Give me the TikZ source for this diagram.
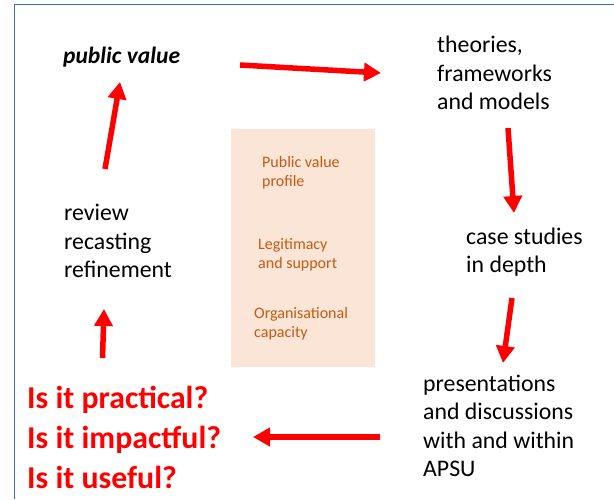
\documentclass[tikz,border=0pt]{standalone}
\usepackage{fontspec}
\setmainfont{Carlito}
\usetikzlibrary{arrows.meta}
\definecolor{frameblue}{HTML}{3A6FB0}
\definecolor{peach}{HTML}{FBE5D6}
\definecolor{rust}{HTML}{C55A11}
\tikzset{
  x=1pt, y=-1pt,
  plain/.style={anchor=west, inner sep=0pt, align=left, font=\fontsize{23.8}{28.5}\selectfont},
  question/.style={anchor=west, inner sep=0pt, align=left, text=red, font=\bfseries\fontsize{31.8}{40}\selectfont},
  boxtext/.style={anchor=west, inner sep=0pt, align=left, text=rust, font=\fontsize{16}{19}\selectfont},
  flow/.style={draw=red, line width=5.5pt, -{Triangle[length=17pt, width=18pt]}},
}
\begin{document}
\begin{tikzpicture}
\useasboundingbox (0,0) rectangle (614,499);
% frame (top and left edges)
\draw[frameblue, line width=1.3pt] (14.5,499) -- (14.5,4.3) -- (614,4.3);
% central box
\fill[peach] (231,129) rectangle (375,367);
\node[boxtext] (pvp) at (262,172.5) {Public value\\profile};
\node[boxtext] (leg) at (258,254.5) {Legitimacy\\and support};
\node[boxtext] (org) at (254,323.5) {Organisational\\capacity};
% texts
\node[plain, font=\bfseries\itshape\fontsize{23.5}{28.5}\selectfont] (pv) at (63,57) {public value};
\node[plain] (tfm) at (437,73) {theories,\\frameworks\\and models};
\node[plain] (cs) at (466,252) {case studies\\in depth};
\node[plain] (pd) at (423,426) {presentations\\and discussions\\with and within\\APSU};
\node[plain] (rr) at (64,241) {review\\recasting\\refinement};
\node[question] (q) at (27,437) {Is it practical?\\Is it impactful?\\Is it useful?};
% arrow end points
\coordinate (a1s) at (240,65);  \coordinate (a1e) at (381,73);
\coordinate (a2s) at (508,128); \coordinate (a2e) at (514,213);
\coordinate (a3s) at (512,298); \coordinate (a3e) at (503,363);
\coordinate (a4s) at (380,437); \coordinate (a4e) at (253,437);
\coordinate (a5s) at (102.5,358); \coordinate (a5e) at (104,309);
\coordinate (a6s) at (105,169); \coordinate (a6e) at (120,82);
\draw[flow] (a1s) -- (a1e);
\draw[flow] (a2s) -- (a2e);
\draw[flow] (a3s) -- (a3e);
\draw[flow] (a4s) -- (a4e);
\draw[flow] (a5s) -- (a5e);
\draw[flow] (a6s) -- (a6e);
\end{tikzpicture}
\end{document}
